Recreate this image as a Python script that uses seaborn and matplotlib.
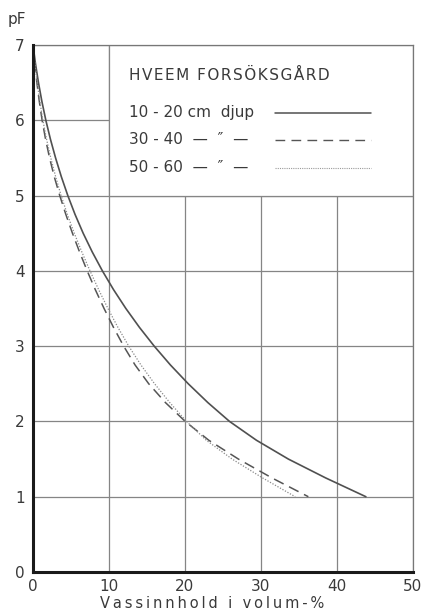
import numpy as np
import pandas as pd
import seaborn as sns
import matplotlib.pyplot as plt
from matplotlib.patches import Rectangle

sns.set_style("white")
plt.rcParams['font.family'] = ['DejaVu Sans']

# pF levels and water content (volume-%) for each sampling depth
pf_levels = [7.0, 6.75, 6.5, 6.25, 6.0, 5.75, 5.5, 5.25, 5.0, 4.75, 4.5, 4.25,
             4.0, 3.75, 3.5, 3.25, 3.0, 2.75, 2.5, 2.25, 2.0, 1.75, 1.5, 1.25, 1.0]
vol_10_20 = [0.0, 0.33, 0.72, 1.17, 1.69, 2.29, 2.97, 3.73, 4.58, 5.53, 6.6, 7.8,
             9.13, 10.6, 12.22, 14.0, 15.95, 18.08, 20.43, 23.01, 25.86, 29.4,
             33.6, 38.5, 43.8]
vol_30_40 = [0.0, 0.23, 0.51, 0.83, 1.2, 1.65, 2.18, 2.8, 3.52, 4.32, 5.19, 6.13,
             7.13, 8.2, 9.35, 10.59, 11.93, 13.43, 15.23, 17.43, 20.03, 23.13,
             27.03, 31.43, 36.23]
vol_50_60 = [0.0, 0.25, 0.55, 0.9, 1.3, 1.78, 2.34, 2.98, 3.7, 4.52, 5.43, 6.43,
             7.5, 8.64, 9.86, 11.17, 12.6, 14.2, 16.0, 18.0, 20.2, 22.8,
             26.2, 30.2, 34.5]

x_ticks = [0, 10, 20, 30, 40, 50]
y_ticks = [0, 1, 2, 3, 4, 5, 6, 7]

title_text = "HVEEM FORSÖKSGÅRD"
depth_labels = ["10 - 20 cm  djup", "30 - 40  —  \u2033  —", "50 - 60  —  \u2033  —"]
x_label = "Vassinnhold i volum-%"

ink = "#3a3a3a"
grid_c = "#858585"


def spaced(text, gap="\u2009"):
    """Open up the lettering with narrow spaces between characters."""
    return gap.join(text)


fig = plt.figure(figsize=(4.26, 6.14), dpi=100)
ax = fig.add_axes([33 / 426, 1 - 572 / 614, 380 / 426, 527 / 614])

ax.set_xlim(0, 50)
ax.set_ylim(0, 7)
ax.set_xticks(x_ticks)
ax.set_yticks(y_ticks)
ax.grid(True, color=grid_c, linewidth=0.9)
ax.set_axisbelow(True)

# blank panel for the key, framed by the grid lines at 10 % and pF 5
ax.add_patch(Rectangle((10, 5), 40, 2, facecolor="white", edgecolor=grid_c,
                       linewidth=0.9, zorder=1.5))

sns.lineplot(x=vol_10_20, y=pf_levels, sort=False, color="#505050",
             linewidth=1.2, ax=ax, zorder=3)
sns.lineplot(x=vol_30_40, y=pf_levels, sort=False, color="#555555",
             linewidth=1.1, linestyle=(0, (7, 4)), ax=ax, zorder=3)
sns.lineplot(x=vol_50_60, y=pf_levels, sort=False, color="#8a8a8a",
             linewidth=0.9, linestyle=(0, (1, 1.3)), ax=ax, zorder=3)

for side in ("left", "bottom"):
    ax.spines[side].set_linewidth(2.2)
    ax.spines[side].set_color("#1a1a1a")
for side in ("top", "right"):
    ax.spines[side].set_linewidth(0.9)
    ax.spines[side].set_color("#777777")
ax.spines["left"].set_zorder(4)
ax.spines["bottom"].set_zorder(4)

ax.tick_params(axis="both", length=0, labelsize=11, labelcolor=ink)
ax.tick_params(axis="y", pad=6)
ax.tick_params(axis="x", pad=5)
ax.set_xlabel(spaced(x_label), fontsize=10.5, color=ink)
ax.xaxis.set_label_coords(0.471, -0.045)
ax.set_ylabel("")
ax.text(-0.066, 1.035, "pF", transform=ax.transAxes, fontsize=11, color=ink,
        ha="left", va="bottom")

# key text and line samples
ax.text(12.6, 6.59, spaced(title_text, "\u200a"), fontsize=11, color=ink,
        va="center", ha="left")
key_y = [6.1, 5.74, 5.37]
styles = [dict(color="#505050", linewidth=1.1, linestyle="-"),
          dict(color="#555555", linewidth=1.0, linestyle=(0, (7, 4.5))),
          dict(color="#9a9a9a", linewidth=0.8, linestyle=(0, (1, 1)))]
for yk, lab, st in zip(key_y, depth_labels, styles):
    ax.text(12.6, yk, lab, fontsize=11, color=ink, va="center", ha="left")
    ax.plot([31.8, 44.5], [yk, yk], zorder=3, **st)

fig.savefig("out.png", dpi=100)
